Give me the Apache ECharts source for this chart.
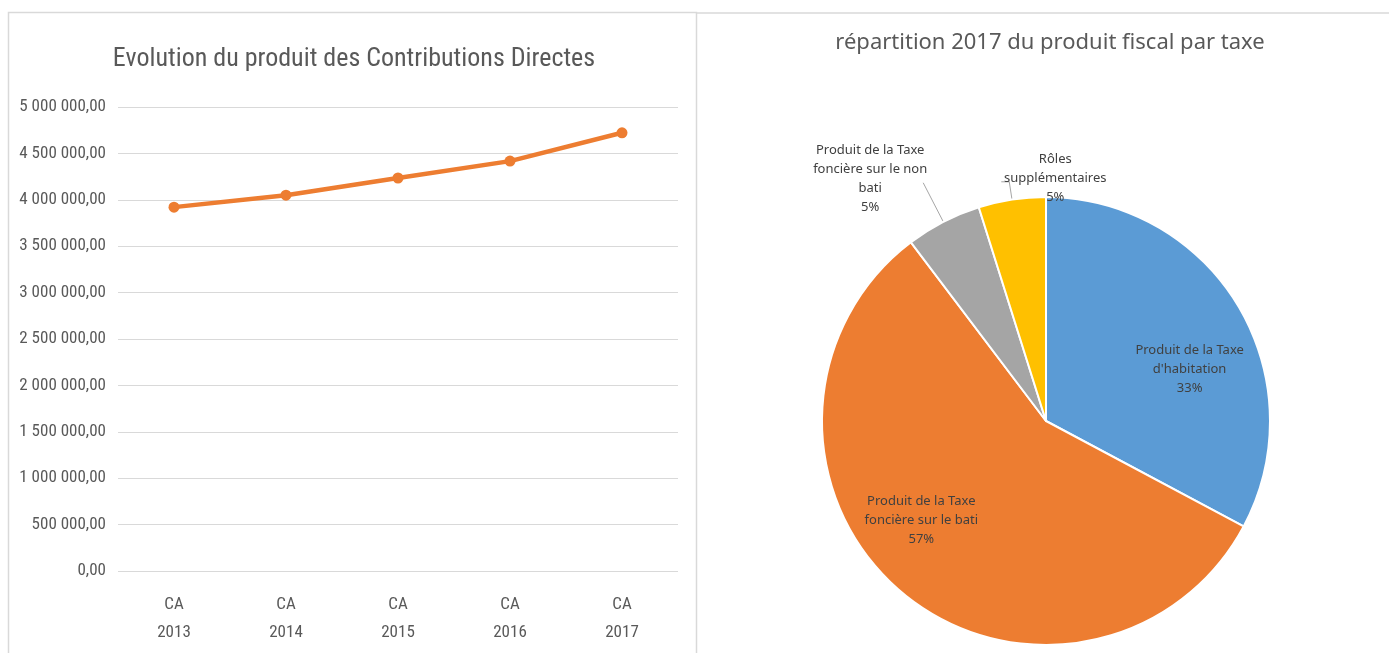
<!DOCTYPE html>
<html>
<head>
<meta charset="utf-8">
<script src="https://cdn.jsdelivr.net/npm/echarts@6/dist/echarts.min.js"></script>
<style>
html,body{margin:0;padding:0;background:#fff;}
#c{width:1389px;height:653px;}
</style>
</head>
<body>
<div id="c"></div>
<script>
// ---- data ----
var lineTitle = 'Evolution du produit des Contributions Directes';
var years = ['CA\n2013', 'CA\n2014', 'CA\n2015', 'CA\n2016', 'CA\n2017'];
var produit = [3921000, 4050000, 4235000, 4417000, 4722000];
var yTicks = { min: 0, max: 5000000, interval: 500000 };

var pieTitle = 'répartition 2017 du produit fiscal par taxe';
var taxeNames = [
  "Produit de la Taxe\nd'habitation",
  'Produit de la Taxe\nfoncière sur le bati',
  'Produit de la Taxe\nfoncière sur le non\nbati',
  'Rôles\nsupplémentaires'
];
var taxeShares = [32.8, 56.9, 5.45, 4.85];
var taxeColors = ['#5B9BD5', '#ED7D31', '#A5A5A5', '#FFC000'];

function fmt(v) {
  var s = Math.round(v).toString();
  var out = '';
  while (s.length > 3) { out = ' ' + s.slice(-3) + out; s = s.slice(0, -3); }
  return s + out + ',00';
}

var narrow = '"Liberation Sans Narrow", "Roboto Condensed", "DejaVu Sans Condensed", sans-serif';
var sans = '"Noto Sans", "Open Sans", sans-serif';
var txt = '#595959';

var labelShift = [[45, 7], [-50, 12], [-48, -4], [59, -4]];
var lineLen = [[0, 0], [0, 0], [44, 0], [18, 8]];

var chart = echarts.init(document.getElementById('c'), null, {renderer: 'canvas'});
chart.setOption({
  animation: false,
  backgroundColor: '#ffffff',
  graphic: [
    { type: 'rect', shape: { x: 8.5, y: 12.5, width: 688, height: 660 }, style: { fill: 'none', stroke: '#d9d9d9', lineWidth: 1.5 }, silent: true },
    { type: 'line', shape: { x1: 697, y1: 13, x2: 1389, y2: 13 }, style: { stroke: '#d9d9d9', lineWidth: 1.5 }, silent: true }
  ],
  title: [
    { text: lineTitle, left: 349, top: 41, textAlign: 'center',
      textStyle: { fontFamily: narrow, fontSize: 26, fontWeight: 'normal', color: txt } },
    { text: pieTitle, left: 1045, top: 27, textAlign: 'center',
      textStyle: { fontFamily: sans, fontSize: 22, fontWeight: 'normal', color: txt } }
  ],
  grid: { left: 118, top: 107, width: 560, height: 464, containLabel: false },
  xAxis: {
    type: 'category', data: years, boundaryGap: true,
    axisLine: { show: false }, axisTick: { show: false },
    axisLabel: { color: txt, fontFamily: narrow, fontSize: 17, lineHeight: 28, margin: 20 }
  },
  yAxis: {
    type: 'value', min: yTicks.min, max: yTicks.max, interval: yTicks.interval,
    axisLine: { show: false }, axisTick: { show: false },
    splitLine: { lineStyle: { color: '#d9d9d9', width: 1 } },
    axisLabel: { color: txt, fontFamily: narrow, fontSize: 17, margin: 12, formatter: fmt }
  },
  series: [
    {
      type: 'line', data: produit,
      lineStyle: { color: '#ED7D31', width: 4.5 },
      itemStyle: { color: '#ED7D31' },
      symbol: 'circle', symbolSize: 11
    },
    {
      type: 'pie', center: [1046, 421], radius: 224, startAngle: 90, clockwise: true,
      avoidLabelOverlap: false, percentPrecision: 0,
      data: taxeNames.map(function (n, i) {
        var inside = i < 2;
        return {
          name: n, value: taxeShares[i],
          itemStyle: { color: taxeColors[i] },
          label: { position: inside ? 'inside' : 'outside' },
          labelLine: { show: !inside, length: lineLen[i][0], length2: lineLen[i][1] }
        };
      }),
      itemStyle: { borderColor: '#ffffff', borderWidth: 2 },
      label: {
        formatter: '{b}\n{d}%', color: '#404040', fontFamily: sans, fontSize: 13,
        lineHeight: 19, align: 'center'
      },
      labelLine: { lineStyle: { color: '#a6a6a6', width: 1 } },
      labelLayout: function (p) {
        var s = labelShift[p.dataIndex];
        return { dx: s[0], dy: s[1], align: 'center' };
      }
    }
  ]
});
</script>
</body>
</html>
